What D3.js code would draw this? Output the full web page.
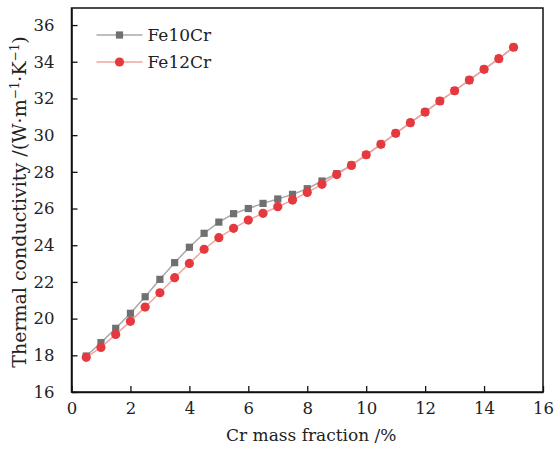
<!DOCTYPE html>
<html lang="en">
<head>
    <meta charset="UTF-8">
    <title>Thermal conductivity</title>
    <style>
        body { margin: 0; background: #fff; }
        text { font-family: "DejaVu Serif", serif; fill: #222; }
        .axis path, .axis line { stroke: #111; }
    </style>
    <script src="https://d3js.org/d3.v7.min.js"></script>
</head>
<body>
    <div id="chart"></div>
    <script>
        // data
        const crFraction = [0.5, 1, 1.5, 2, 2.5, 3, 3.5, 4, 4.5, 5, 5.5, 6, 6.5, 7, 7.5,
            8, 8.5, 9, 9.5, 10, 10.5, 11, 11.5, 12, 12.5, 13, 13.5, 14, 14.5, 15];
        const fe10Cr = [17.96, 18.69, 19.47, 20.29, 21.19, 22.14, 23.05, 23.89, 24.65, 25.26,
            25.72, 26.0, 26.28, 26.52, 26.77, 27.08, 27.5, 27.9, 28.37, 28.93,
            29.5, 30.1, 30.68, 31.26, 31.86, 32.42, 33.0, 33.59, 34.17, 34.79];
        const fe12Cr = [17.89, 18.43, 19.14, 19.85, 20.63, 21.41, 22.23, 23.01, 23.78, 24.41,
            24.92, 25.37, 25.74, 26.1, 26.46, 26.88, 27.32, 27.85, 28.35, 28.93,
            29.5, 30.1, 30.68, 31.26, 31.86, 32.42, 33.0, 33.59, 34.17, 34.79];
        const xTicks = [0, 2, 4, 6, 8, 10, 12, 14, 16];
        const yTicks = [16, 18, 20, 22, 24, 26, 28, 30, 32, 34, 36];

        var margin = { top: 8, right: 12, bottom: 57, left: 71.5 },
            width = 555 - margin.left - margin.right,
            height = 449 - margin.top - margin.bottom;

        var x_scale = d3.scaleLinear().domain([0, 16]).range([0, width]);
        var y_scale = d3.scaleLinear().domain([16, 36.93]).range([height, 0]);

        const svg = d3.select('#chart').append('svg')
            .attr('width', 555).attr('height', 449)
            .append('g')
            .attr('transform', 'translate(' + margin.left + ',' + margin.top + ')');

        // frame
        svg.append('rect')
            .attr('width', width).attr('height', height)
            .attr('fill', 'none').attr('stroke', '#111').attr('stroke-width', 1.5);

        // axes, ticks pointing inward
        const xAxis = svg.append('g').attr('class', 'axis')
            .attr('transform', 'translate(0,' + height + ')')
            .call(d3.axisBottom(x_scale).tickValues(xTicks).tickSizeInner(-6).tickSizeOuter(0).tickPadding(10));
        const yAxis = svg.append('g').attr('class', 'axis')
            .call(d3.axisLeft(y_scale).tickValues(yTicks).tickSizeInner(-6).tickSizeOuter(0).tickPadding(17));
        [xAxis, yAxis].forEach(a => {
            a.select('.domain').attr('stroke-width', 1.5);
            a.selectAll('line').attr('stroke-width', 1.3);
            a.selectAll('text').style('font-family', '"DejaVu Serif", serif')
                .style('font-size', '16.5px').attr('fill', '#222');
        });

        const series = [
            { name: 'Fe10Cr', values: fe10Cr, line: '#a9a9ab', fill: '#707073', shape: 'square' },
            { name: 'Fe12Cr', values: fe12Cr, line: '#f2a49c', fill: '#e5393f', shape: 'circle' }
        ];

        const line = d3.line()
            .x((d, i) => x_scale(crFraction[i]))
            .y(d => y_scale(d));

        function drawMarker(g, s, cx, cy) {
            if (s.shape === 'square') {
                g.append('rect').attr('x', cx - 3.6).attr('y', cy - 3.6)
                    .attr('width', 7.2).attr('height', 7.2).attr('fill', s.fill);
            } else {
                g.append('circle').attr('cx', cx).attr('cy', cy).attr('r', 4.6).attr('fill', s.fill);
            }
        }

        series.forEach(s => {
            svg.append('path').datum(s.values)
                .attr('fill', 'none').attr('stroke', s.line).attr('stroke-width', 1.5)
                .attr('d', line);
            const g = svg.append('g');
            s.values.forEach((v, i) => drawMarker(g, s, x_scale(crFraction[i]), y_scale(v)));
        });

        // legend
        const legend = svg.append('g').attr('transform', 'translate(25,27)');
        series.forEach((s, i) => {
            const row = legend.append('g').attr('transform', 'translate(0,' + i * 27 + ')');
            row.append('line').attr('x1', 0).attr('x2', 46)
                .attr('stroke', s.line).attr('stroke-width', 1.5);
            drawMarker(row, s, 23, 0);
            row.append('text').attr('x', 51).attr('y', 0).attr('dy', '0.35em')
                .style('font-size', '17px').text(s.name);
        });

        // axis titles
        svg.append('text')
            .attr('x', width / 2 + 4).attr('y', height + 49)
            .attr('text-anchor', 'middle').style('font-size', '17px')
            .text('Cr mass fraction /%');

        const yt = svg.append('text')
            .attr('transform', 'translate(' + (-46) + ',' + (height / 2 + 2) + ') rotate(-90)')
            .attr('text-anchor', 'middle').style('font-size', '19px');
        yt.append('tspan').text('Thermal conductivity /(W\u00b7m');
        yt.append('tspan').attr('baseline-shift', 'super').style('font-size', '12px').text('\u22121');
        yt.append('tspan').text('\u00b7K');
        yt.append('tspan').attr('baseline-shift', 'super').style('font-size', '12px').text('\u22121');
        yt.append('tspan').text(')');
    </script>
</body>
</html>
